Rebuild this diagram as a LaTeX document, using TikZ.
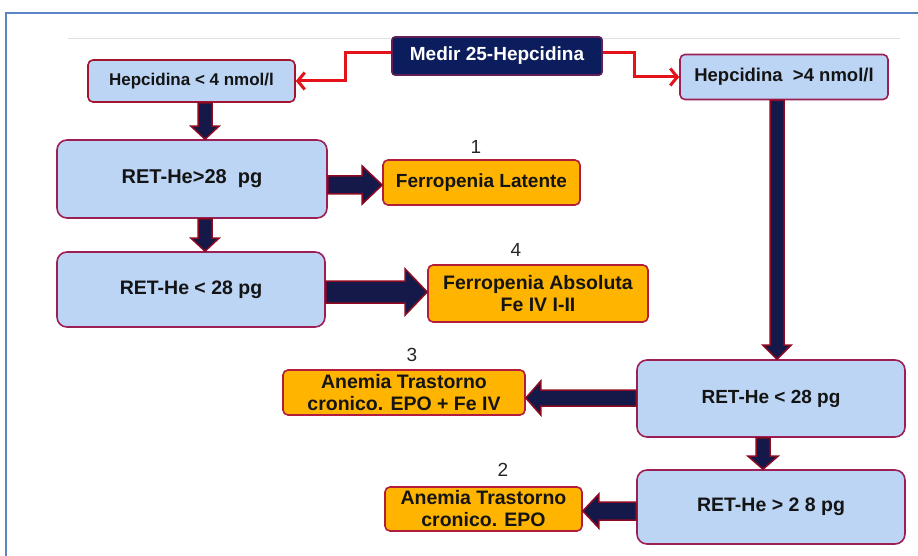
\documentclass[tikz,border=0pt]{standalone}
\usepackage{fontspec}
\setmainfont{Liberation Sans}
\usetikzlibrary{calc,arrows.meta}
\definecolor{navyfill}{HTML}{0C1D5E}
\definecolor{arrownavy}{HTML}{15194A}
\definecolor{arrowred}{HTML}{8E0A22}
\definecolor{boxblue}{HTML}{BCD5F5}
\definecolor{boxedge}{HTML}{9C1F55}
\definecolor{boxedgered}{HTML}{A3152E}
\definecolor{orangefill}{HTML}{FFB400}
\definecolor{orangeedge}{HTML}{B41C3C}
\definecolor{conred}{HTML}{E3121B}
\definecolor{frameblue}{HTML}{5B86C5}
\definecolor{greyline}{HTML}{E2E2E2}
\tikzset{
  base/.style={rounded corners=5pt, line width=1.6pt, align=center, inner sep=0pt,
    font=\fontsize{17}{21}\selectfont\bfseries, text=black!92},
  bluebox/.style={base, fill=boxblue, draw=boxedge},
  bigblue/.style={bluebox, rounded corners=10pt, font=\fontsize{19.5}{22}\selectfont\bfseries},
  orangebox/.style={base, fill=orangefill, draw=orangeedge, font=\fontsize{19.5}{22}\selectfont\bfseries},
  topbox/.style={base, fill=navyfill, draw=boxedge!60!navyfill, text=white, rounded corners=3pt,
    font=\fontsize{19}{21}\selectfont\bfseries},
  numlabel/.style={font=\fontsize{19}{21}\selectfont, text=black!85, inner sep=0pt},
  redcon/.style={conred, line width=3pt, -{Straight Barb[length=7pt,width=17pt,line width=3pt]}},
  fat/.style={fill=arrownavy, draw=arrowred, line width=1.5pt, line join=miter}
}
% #1 start, #2 tip, #3 half shaft, #4 half head, #5 head length
\newcommand\fatarrow[5]{%
  \coordinate (fatc) at ($(#2)!#5!(#1)$);
  \draw[fat] ($(#1)!#3!90:(#2)$) -- ($(fatc)!#3!-90:(#1)$) -- ($(fatc)!#4!-90:(#1)$) -- (#2)
    -- ($(fatc)!#4!90:(#1)$) -- ($(fatc)!#3!90:(#1)$) -- ($(#1)!#3!-90:(#2)$) -- cycle;}
\begin{document}
\begin{tikzpicture}[x=1pt,y=-1pt]
\useasboundingbox (0,0) rectangle (918,556);
\fill[white] (0,0) rectangle (918,556);
% frame
\draw[frameblue, line width=2pt] (6,556) -- (6,13) -- (918,13);
\draw[greyline, line width=1pt] (68,39) -- (900,39);

% nodes
\node[topbox, minimum width=210, minimum height=38] (medir) at (497,56) {Medir 25-Hepcidina};
\node[bluebox, draw=boxedgered, minimum width=207, minimum height=42] (hl) at (191.5,81) {Hepcidina < 4 nmol/l};
\node[bluebox, font=\fontsize{18.5}{21}\selectfont\bfseries, minimum width=208, minimum height=45] (hr) at (784,77) {Hepcidina~ >4 nmol/l};
\node[bigblue, font=\fontsize{20}{22}\selectfont\bfseries, minimum width=270, minimum height=78] (r1) at (192,179) {RET-He>28~ pg};
\node[orangebox, font=\fontsize{19}{21}\selectfont\bfseries, minimum width=197, minimum height=45] (f1) at (481.5,182.5) {Ferropenia Latente};
\node[bigblue, minimum width=268, minimum height=75] (r2) at (191,289.5) {RET-He < 28 pg};
\node[orangebox, minimum width=220, minimum height=57] (f4) at (538,293.5) {Ferropenia Absoluta\\Fe IV I-II};
\node[bigblue, font=\fontsize{19}{22}\selectfont\bfseries, minimum width=268, minimum height=77] (r3) at (771,398.5) {RET-He < 28 pg};
\node[orangebox, minimum width=242, minimum height=45] (a3) at (404,392.5) {Anemia Trastorno\\cronico. EPO + Fe IV};
\node[bigblue, minimum width=268, minimum height=74] (r4) at (771,507) {RET-He > 2 8 pg};
\node[orangebox, minimum width=197, minimum height=44] (a2) at (483.5,509) {Anemia Trastorno\\cronico. EPO};

% number labels
\node[numlabel] (n1) at (476,147) {1};
\node[numlabel] (n4) at (516,250) {4};
\node[numlabel] (n3) at (412,355) {3};
\node[numlabel] (n2) at (503,470) {2};

% red connectors
\draw[redcon] ($(medir.west)+(0,-3)$) -| ($(hl.east)+(50,0)$) -- (hl.east);
\draw[redcon] ($(medir.east)+(0,-3)$) -| ($(hr.west)+(-45,0)$) -- (hr.west);

% helper coordinates for fat arrows
\coordinate (xl) at (205,0);
\coordinate (xr) at (777,0);
\coordinate (xr2) at (763,0);
\coordinate (y1) at (0,185);
\coordinate (y2) at (0,292);
\coordinate (y3) at (0,398);
\coordinate (y4) at (0,511);

\coordinate (a1s) at (hl.south -| xl);  \coordinate (a1e) at (r1.north -| xl);
\coordinate (a2s) at (r1.east |- y1);   \coordinate (a2e) at (f1.west |- y1);
\coordinate (a3s) at (r1.south -| xl);  \coordinate (a3e) at (r2.north -| xl);
\coordinate (a4s) at (r2.east |- y2);   \coordinate (a4e) at (f4.west |- y2);
\coordinate (a5s) at (hr.south -| xr);  \coordinate (a5e) at (r3.north -| xr);
\coordinate (a6s) at (r3.west |- y3);   \coordinate (a6e) at (a3.east |- y3);
\coordinate (a7s) at (r3.south -| xr2); \coordinate (a7e) at (r4.north -| xr2);
\coordinate (a8s) at (r4.west |- y4);   \coordinate (a8e) at (a2.east |- y4);

\fatarrow{a1s}{a1e}{7pt}{14pt}{13pt}
\fatarrow{a2s}{a2e}{9pt}{19pt}{20pt}
\fatarrow{a3s}{a3e}{7pt}{14pt}{13pt}
\fatarrow{a4s}{a4e}{11pt}{23pt}{22pt}
\fatarrow{a5s}{a5e}{7pt}{14pt}{14pt}
\fatarrow{a6s}{a6e}{8pt}{17pt}{15pt}
\fatarrow{a7s}{a7e}{7pt}{15pt}{13pt}
\fatarrow{a8s}{a8e}{9pt}{17pt}{16pt}
\end{tikzpicture}
\end{document}
